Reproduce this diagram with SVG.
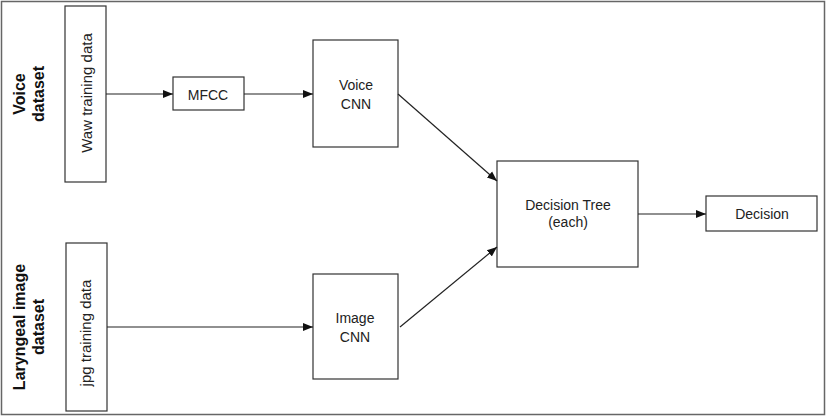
<svg xmlns="http://www.w3.org/2000/svg" width="827" height="417" viewBox="0 0 827 417">
<style>
.box{fill:#fff;stroke:#333;stroke-width:1.2}
.t{font-family:"Liberation Sans","Open Sans",Arial,sans-serif;font-size:14px;fill:#222;text-anchor:middle}
.b{font-family:"Liberation Sans","Open Sans",Arial,sans-serif;font-size:16px;font-weight:bold;fill:#111;text-anchor:middle}
.c{fill:none;stroke:#222;stroke-width:1.2}
</style>
<defs>
<marker id="ah" viewBox="0 0 10 10" refX="10" refY="5" markerWidth="10" markerHeight="10" markerUnits="userSpaceOnUse" orient="auto">
<path d="M0,1 L10,5 L0,9 Z" fill="#111"/>
</marker>
</defs>
<rect x="1.5" y="1.5" width="823" height="413" fill="#fff" stroke="#666" stroke-width="1.5"/>
<g id="voice-label">
<text class="b" transform="translate(25,94) rotate(-90)">Voice</text>
<text class="b" transform="translate(44,94) rotate(-90)">dataset</text>
</g>
<g id="laryngeal-label">
<text class="b" transform="translate(25,327) rotate(-90)">Laryngeal image</text>
<text class="b" transform="translate(44,327) rotate(-90)">dataset</text>
</g>
<g id="waw">
<rect class="box" x="65" y="6" width="41" height="176"/>
<text class="t" transform="translate(92,93) rotate(-90)" style="font-size:15px">Waw training data</text>
</g>
<g id="jpg">
<rect class="box" x="66" y="243" width="41" height="168"/>
<text class="t" transform="translate(91,333) rotate(-90)" style="font-size:15px">jpg training data</text>
</g>
<g id="mfcc">
<rect class="box" x="173" y="77" width="71" height="33"/>
<text class="t" x="208" y="100">MFCC</text>
</g>
<g id="voice-cnn">
<rect class="box" x="313" y="40" width="85" height="107"/>
<text class="t" x="356" y="90">Voice</text>
<text class="t" x="356" y="109">CNN</text>
</g>
<g id="image-cnn">
<rect class="box" x="313" y="274" width="85" height="105"/>
<text class="t" x="355" y="323">Image</text>
<text class="t" x="355" y="342">CNN</text>
</g>
<g id="decision-tree">
<rect class="box" x="497" y="161" width="141" height="106"/>
<text class="t" x="568" y="210">Decision Tree</text>
<text class="t" x="568" y="227">(each)</text>
</g>
<g id="decision">
<rect class="box" x="706" y="196" width="111" height="35"/>
<text class="t" x="762" y="219">Decision</text>
</g>
<g id="connectors">
<line class="c" x1="106" y1="94" x2="173" y2="94" marker-end="url(#ah)"/>
<line class="c" x1="244" y1="94" x2="313" y2="94" marker-end="url(#ah)"/>
<line class="c" x1="107" y1="327" x2="313" y2="327" marker-end="url(#ah)"/>
<line class="c" x1="398" y1="94" x2="497" y2="181" marker-end="url(#ah)"/>
<line class="c" x1="400" y1="327" x2="497" y2="247" marker-end="url(#ah)"/>
<line class="c" x1="638" y1="214" x2="706" y2="214" marker-end="url(#ah)"/>
</g>
</svg>
